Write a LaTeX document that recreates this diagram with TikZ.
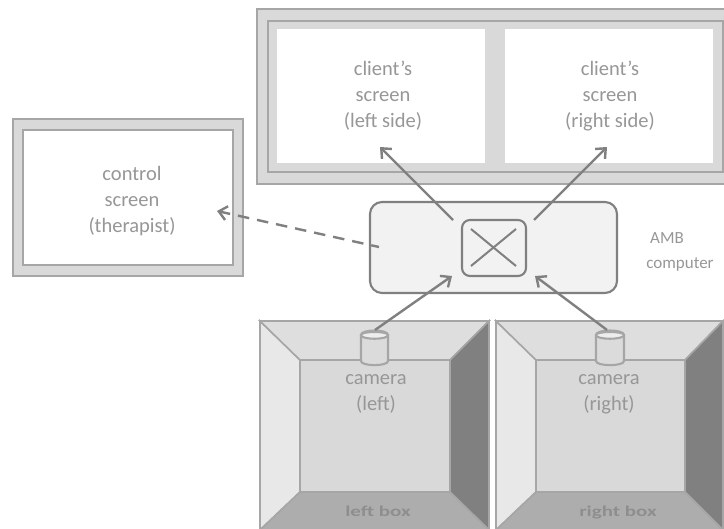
\documentclass[tikz,border=0pt]{standalone}
\usepackage{fontspec}
\setmainfont{Carlito}
\usetikzlibrary{arrows.meta}
\definecolor{fr}{HTML}{D9D9D9}
\definecolor{ln}{HTML}{A6A6A6}
\definecolor{arr}{HTML}{808080}
\definecolor{tx}{HTML}{979797}
\definecolor{tb}{HTML}{8E8E8E}
\tikzset{
  x=1pt,y=-1pt,
  lab/.style={text=tx,font=\fontsize{20.5}{26}\selectfont,align=center,inner sep=0,text depth=0pt},
  sidelab/.style={text=tx,font=\fontsize{17}{26}\selectfont,inner sep=0},
  boxlab/.style={text=tb,font=\fontsize{15}{16}\selectfont\bfseries,inner sep=0,xscale=1.4,transform shape,anchor=base},
  frameline/.style={draw=ln,line width=1.8pt,fill=fr},
  whitepanel/.style={draw=ln,line width=1.8pt,fill=white},
  wall/.style={draw=ln,line width=1.6pt},
  conn/.style={draw=arr,line width=2.4pt,-{Straight Barb[length=8pt,width=14pt,line width=2.4pt]}},
  rbox/.style={draw=arr,line width=2.1pt,fill=#1}
}
\newcommand{\roombox}[5]{% name, x0, x1, ix0, ix1
  \fill[fr] (#2,321) rectangle (#3,530);
  \filldraw[wall,fill=white!91!black] (#2,321) -- (#4,360) -- (#4,492) -- (#2,530) -- cycle;
  \filldraw[wall,fill=white!87!black] (#2,321) -- (#3,321) -- (#5,360) -- (#4,360) -- cycle;
  \filldraw[wall,fill=fr] (#4,360) rectangle (#5,492);
  \filldraw[wall,fill=arr] (#3,321) -- (#3,530) -- (#5,492) -- (#5,360) -- cycle;
  \filldraw[wall,fill=white!68!black] (#4,492) -- (#5,492) -- (#3,530) -- (#2,530) -- cycle;
}
\newcommand{\camcyl}[2]{% x0, x1
  \filldraw[draw=ln,line width=2.1pt,fill=white!86!black]
    (#1,335) -- (#1,361) .. controls (#1,366.5) and (#2,366.5) .. (#2,361) -- (#2,335)
    .. controls (#2,329) and (#1,329) .. (#1,335) -- cycle;
  \draw[draw=ln,line width=2.1pt,fill=white!93!black]
    (#1,335) .. controls (#1,331) and (#2,331) .. (#2,335)
    .. controls (#2,340) and (#1,340) .. (#1,335) -- cycle;
}
\begin{document}
\begin{tikzpicture}
\useasboundingbox (0,0) rectangle (724,529);
\begin{scope}
\clip (0,0) rectangle (724,529);
% client's screen frame
\filldraw[frameline] (257,9) rectangle (740,184);
\filldraw[frameline] (268,21) rectangle (723,172);
\node[fill=white,minimum width=208pt,minimum height=134pt,inner sep=0] (sl) at (381,96) {};
\node[fill=white,minimum width=208pt,minimum height=134pt,inner sep=0] (sr) at (609,96) {};
% control screen
\filldraw[frameline] (13,119) rectangle (243,276);
\filldraw[whitepanel] (23,130) rectangle (233,265);
% boxes
\roombox{left}{260}{489}{300}{450}
\roombox{right}{496}{723}{536}{685}
\end{scope}
% AMB computer
\node[rbox=white!95!black,rounded corners=12pt,minimum width=247pt,minimum height=91pt,inner sep=0] (amb) at (493.5,247.5) {};
\node[rbox=white!95!black,rounded corners=8pt,minimum width=64pt,minimum height=56pt,inner sep=0] (mix) at (494,248) {};
\coordinate (xa) at (471,229); \coordinate (xb) at (516,266);
\coordinate (xc) at (516,229); \coordinate (xd) at (471,266);
\draw[arr,line width=2pt] (xa) -- (xb);
\draw[arr,line width=2pt] (xc) -- (xd);
% cameras
\camcyl{361}{388}
\camcyl{596}{624}
% labels
\node[lab] (t1) at (383,94) {client’s\\screen\\(left side)};
\node[lab] (t2) at (610,94) {client’s\\screen\\(right side)};
\node[lab] (t3) at (132,199) {control\\screen\\(therapist)};
\node[lab] (t4) at (376,392.5) {camera\\(left)};
\node[lab] (t5) at (609,392.5) {camera\\(right)};
\node[sidelab] (t6) at (667,238) {AMB};
\node[sidelab] (t7) at (680,264) {computer};
\node[boxlab] (t8) at (378,517) {left box};
\node[boxlab] (t9) at (618,517) {right box};
% connector ends
\coordinate (ml) at (453,220);
\coordinate (mr) at (534,220);
\coordinate (hl) at (380,147);
\coordinate (hr) at (607,147);
\coordinate (cl) at (375,330);
\coordinate (cr) at (607,330);
\coordinate (il) at (452,276);
\coordinate (ir) at (535,276);
\coordinate (da) at (379,247);
\coordinate (db) at (217,211);
\draw[conn] (ml) -- (hl);
\draw[conn] (mr) -- (hr);
\draw[conn] (cl) -- (il);
\draw[conn] (cr) -- (ir);
\draw[conn,dash pattern=on 11.5pt off 8pt,dash phase=3.5pt] (da) -- (db);
\end{tikzpicture}
\end{document}
